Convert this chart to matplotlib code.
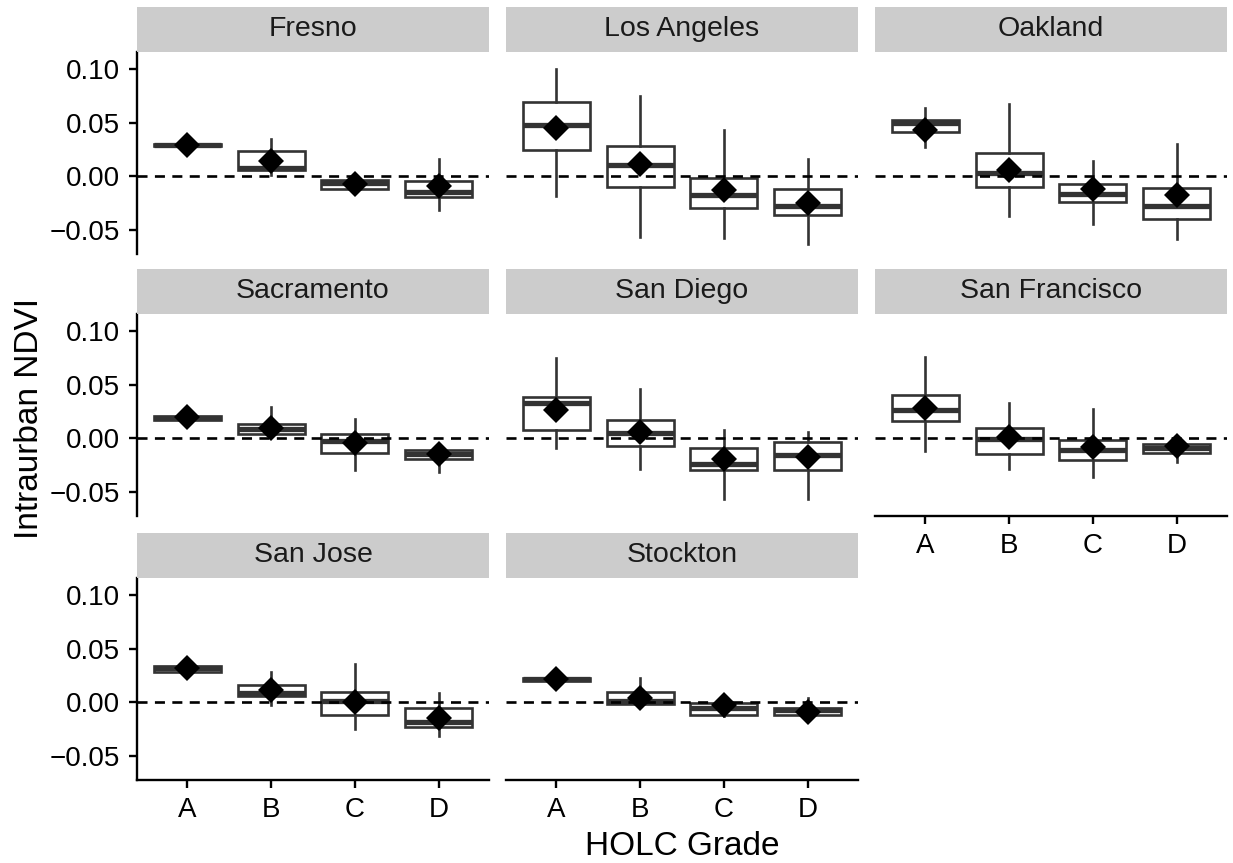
import matplotlib.pyplot as plt

plt.rcParams["font.family"] = ["Liberation Sans", "DejaVu Sans"]

# citta e classi HOLC
cities = ["Fresno", "Los Angeles", "Oakland", "Sacramento",
          "San Diego", "San Francisco", "San Jose", "Stockton"]
grades = ["A", "B", "C", "D"]

# statistiche dei boxplot (una riga per citta, colonne A-D)
whisker_lo = [
    [0.0275, 0.0010, -0.0135, -0.0310],
    [-0.0180, -0.0565, -0.0572, -0.0634],
    [0.0273, -0.0370, -0.0447, -0.0587],
    [0.0165, 0.0025, -0.0292, -0.0310],
    [-0.0090, -0.0283, -0.0568, -0.0568],
    [-0.0118, -0.0283, -0.0363, -0.0217],
    [0.0270, -0.0025, -0.0249, -0.0310],
    [0.0200, -0.0020, -0.0130, -0.0120],
]
q1 = [
    [0.0279, 0.0059, -0.0118, -0.0196],
    [0.0245, -0.0100, -0.0292, -0.0361],
    [0.0416, -0.0103, -0.0243, -0.0398],
    [0.0170, 0.0037, -0.0134, -0.0196],
    [0.0077, -0.0069, -0.0298, -0.0292],
    [0.0161, -0.0143, -0.0205, -0.0134],
    [0.0279, 0.0059, -0.0115, -0.0233],
    [0.0202, -0.0013, -0.0122, -0.0115],
]
median = [
    [0.0290, 0.0075, -0.0060, -0.0148],
    [0.0475, 0.0103, -0.0177, -0.0273],
    [0.0502, 0.0034, -0.0168, -0.0276],
    [0.0190, 0.0087, -0.0025, -0.0143],
    [0.0329, 0.0050, -0.0236, -0.0152],
    [0.0264, -0.0006, -0.0109, -0.0093],
    [0.0322, 0.0090, 0.0012, -0.0180],
    [0.0216, 0.0015, -0.0056, -0.0068],
]
q3 = [
    [0.0302, 0.0237, -0.0034, -0.0043],
    [0.0690, 0.0283, -0.0012, -0.0121],
    [0.0522, 0.0215, -0.0074, -0.0105],
    [0.0209, 0.0137, 0.0044, -0.0112],
    [0.0389, 0.0168, -0.0090, -0.0031],
    [0.0404, 0.0097, -0.0018, -0.0052],
    [0.0337, 0.0165, 0.0100, -0.0052],
    [0.0230, 0.0097, -0.0006, -0.0049],
]
whisker_hi = [
    [0.0305, 0.0345, -0.0020, 0.0158],
    [0.1003, 0.0752, 0.0429, 0.0162],
    [0.0640, 0.0677, 0.0146, 0.0301],
    [0.0215, 0.0295, 0.0177, -0.0110],
    [0.0746, 0.0460, 0.0078, 0.0056],
    [0.0755, 0.0332, 0.0273, -0.0050],
    [0.0340, 0.0286, 0.0357, 0.0090],
    [0.0235, 0.0224, 0.0000, 0.0037],
]
mean = [
    [0.0295, 0.0143, -0.0068, -0.0090],
    [0.0454, 0.0112, -0.0130, -0.0245],
    [0.0429, 0.0062, -0.0121, -0.0177],
    [0.0196, 0.0093, -0.0043, -0.0146],
    [0.0264, 0.0056, -0.0193, -0.0174],
    [0.0280, 0.0009, -0.0084, -0.0075],
    [0.0317, 0.0115, 0.0003, -0.0149],
    [0.0217, 0.0043, -0.0025, -0.0087],
]

yticks = [-0.05, 0.00, 0.05, 0.10]
ytick_labels = ["\u22120.05", "0.00", "0.05", "0.10"]

W, H = 1233, 863
fig = plt.figure(figsize=(W / 100, H / 100), dpi=100)

col_left = [137, 506, 875]
row_top = [52, 314, 578]
panel_w, panel_h, strip_h = 352, 202, 45

# pannelli con ticks sull'asse x (ultima riga di ogni colonna)
bottom_panels = {5, 6, 7}

for i, city in enumerate(cities):
    r, c = divmod(i, 3)
    x0, y0 = col_left[c], row_top[r]
    ax = fig.add_axes([x0 / W, 1 - (y0 + panel_h) / H, panel_w / W, panel_h / H])

    stats = []
    for j in range(4):
        stats.append(dict(whislo=whisker_lo[i][j], q1=q1[i][j], med=median[i][j],
                          q3=q3[i][j], whishi=whisker_hi[i][j], mean=mean[i][j]))
    ax.bxp(stats, positions=[1, 2, 3, 4], widths=0.8, showmeans=True,
           showfliers=False, showcaps=False, patch_artist=True,
           boxprops=dict(facecolor="white", edgecolor="#333333", linewidth=1.9),
           medianprops=dict(color="#333333", linewidth=3.8, solid_capstyle="butt"),
           whiskerprops=dict(color="#333333", linewidth=1.9),
           meanprops=dict(marker="D", markersize=13.5, markerfacecolor="black",
                          markeredgecolor="black", markeredgewidth=0, zorder=5))
    ax.axhline(0, color="black", linestyle=(0, (3.8, 2.8)), linewidth=1.9, zorder=4)

    ax.set_xlim(0.4, 4.6)
    ax.set_ylim(-0.0725, 0.116)
    for s in ["top", "right"]:
        ax.spines[s].set_visible(False)
    for s in ["left", "bottom"]:
        ax.spines[s].set_linewidth(1.7)

    if c == 0:
        ax.set_yticks(yticks)
        ax.set_yticklabels(ytick_labels)
    else:
        ax.spines["left"].set_visible(False)
        ax.set_yticks([])
    if i in bottom_panels:
        ax.set_xticks([1, 2, 3, 4])
        ax.set_xticklabels(grades)
    else:
        ax.spines["bottom"].set_visible(False)
        ax.set_xticks([])
    ax.tick_params(labelsize=20, length=6, width=1.7, colors="black", pad=6)

    # intestazione del pannello
    sax = fig.add_axes([x0 / W, 1 - y0 / H, panel_w / W, strip_h / H])
    sax.set_facecolor("#cccccc")
    sax.set_xticks([])
    sax.set_yticks([])
    for s in sax.spines.values():
        s.set_visible(False)
    sax.text(0.5, 0.5, city, ha="center", va="center", fontsize=20.5,
             color="#1a1a1a", transform=sax.transAxes)

fig.text(682 / W, 1 - 846 / H, "HOLC Grade", ha="center", va="center", fontsize=24)
fig.text(30 / W, 1 - 418 / H, "Intraurban NDVI", ha="center", va="center",
         rotation=90, fontsize=24)

fig.savefig("out.png", dpi=100)
